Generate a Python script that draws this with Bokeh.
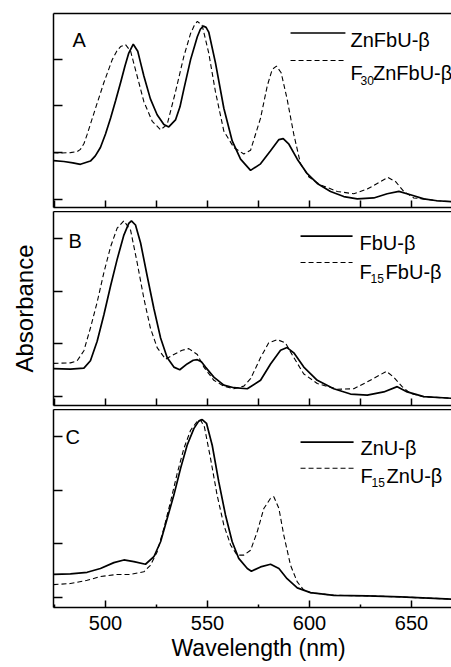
from bokeh.plotting import figure
from bokeh.models import (Range1d, LinearAxis, FixedTicker, Label, Arrow, Title,
                          CustomLabelingPolicy)
from bokeh.layouts import column
from bokeh.embed import file_html
from bokeh.resources import INLINE

# ---------------- data ----------------
# Panel A
a_solid_name = "ZnFbU-\u03b2"
a_solid_wl = [474.5, 479.6, 484, 487.7, 492.6, 495, 497.5, 500, 502.5, 505, 507.4, 509.5, 511.4,
              513.6, 515.8, 517.2, 518.8, 522, 525.3, 528.6, 531, 534.3, 536.5, 538.4, 541.7, 545,
              546.5, 547.9, 549.3, 550.6, 553.9, 558, 562.1, 566.2, 571.1, 576, 580.9, 585, 587.1,
              589.9, 594, 598.9, 603.8, 610.3, 616.8, 623.4, 631.5, 638.1, 643.8, 649.5, 656, 662.5, 669.6]
a_solid_abs = [0.83, 0.81, 0.78, 0.75, 0.82, 0.93, 1.11, 1.40, 1.74, 2.12, 2.50, 2.85, 3.13,
               3.32, 3.17, 2.92, 2.64, 2.15, 1.81, 1.60, 1.55, 1.70, 1.98, 2.36, 2.99, 3.48,
               3.64, 3.71, 3.68, 3.58, 2.92, 1.95, 1.25, 0.86, 0.62, 0.76, 1.04, 1.28, 1.30,
               1.18, 0.86, 0.55, 0.34, 0.17, 0.06, 0.01, 0.03, 0.12, 0.17, 0.10, 0.01, -0.03, -0.05]
a_dash_wl = [474.5, 478, 482.8, 486, 487.7, 489.5, 491, 495.1, 499.2, 503.3, 505.5, 507.4, 509.8,
             512.3, 515.5, 518.8, 522.9, 527, 530.2, 534.3, 538.4, 541.7, 543.5, 545, 547.4, 550.6,
             553.9, 558, 562.9, 567.8, 571.1, 576, 579.3, 581.7, 583.8, 586.1, 589, 592.3, 595.6,
             599.7, 605.4, 613.6, 621.7, 628.3, 634.8, 638.4, 642.2, 646.2, 651.1, 656, 662.5, 669.6]
a_dash_abs = [1.00, 0.99, 1.00, 1.02, 1.07, 1.20, 1.39, 1.95, 2.50, 2.99, 3.17, 3.27, 3.31,
              3.17, 2.64, 2.09, 1.67, 1.49, 1.60, 2.30, 3.06, 3.55, 3.72, 3.81, 3.72, 3.13,
              2.30, 1.46, 1.11, 0.97, 1.05, 1.74, 2.43, 2.78, 2.85, 2.71, 2.15, 1.39, 0.76,
              0.48, 0.31, 0.17, 0.12, 0.22, 0.38, 0.47, 0.38, 0.17, 0.03, 0.01, -0.03, -0.05]

# Panel B
b_solid_name = "FbU-\u03b2"
b_solid_wl = [474.5, 482.8, 489.4, 492.6, 495.9, 499.2, 502.5, 505.7, 509, 511.4, 512.7, 514.7,
              517.2, 520.4, 523.7, 527, 530.2, 533.5, 536.4, 540, 543, 545, 547, 549, 553.1, 558,
              562.9, 569.5, 576, 580.9, 585.8, 589, 592.3, 597.2, 603.8, 611.9, 620.1, 628.3,
              636.4, 643, 647.9, 656, 669.6]
b_solid_abs = [0.53, 0.52, 0.54, 0.68, 1.05, 1.55, 2.10, 2.60, 3.06, 3.28, 3.33, 3.25,
               2.91, 2.29, 1.67, 1.11, 0.74, 0.56, 0.51, 0.62, 0.69, 0.70, 0.66, 0.56, 0.37, 0.22,
               0.17, 0.15, 0.31, 0.62, 0.88, 0.93, 0.83, 0.56, 0.31, 0.15, 0.05, 0.03,
               0.09, 0.19, 0.09, 0.00, -0.03]
b_dash_wl = [474.5, 482.8, 486.1, 489.4, 492.6, 495.9, 499.2, 502.5, 505.7, 509, 512.3, 515.5,
             518.8, 522, 525.3, 529.4, 533.5, 537.6, 540.8, 545, 548.2, 553.1, 558, 562.9, 567.8,
             571.1, 576, 580, 584.2, 588.2, 592.3, 597.2, 603.8, 613.6, 621.7, 628.3, 634, 637.7,
             641.3, 645.4, 649.5, 656, 669.6]
b_dash_abs = [0.63, 0.64, 0.68, 0.87, 1.30, 1.79, 2.35, 2.84, 3.19, 3.33, 3.15, 2.54,
              1.86, 1.30, 0.93, 0.71, 0.80, 0.88, 0.91, 0.80, 0.56, 0.31, 0.20, 0.15, 0.20,
              0.34, 0.74, 1.02, 1.08, 1.02, 0.74, 0.43, 0.25, 0.14, 0.15, 0.28, 0.40, 0.48,
              0.37, 0.19, 0.06, 0.00, -0.03]

# Panel C
c_solid_name = "ZnU-\u03b2"
c_solid_wl = [474.5, 482.8, 491, 497.5, 504.1, 509, 513.9, 519.6, 523.7, 527, 530.2, 533.5,
              536.8, 540, 543.3, 545.7, 547.4, 549.5, 552.3, 555.5, 558.8, 562.1, 565.3, 569.5,
              571.5, 576, 580.9, 585, 589, 594, 600.5, 611.9, 628.3, 644.6, 669.6]
c_solid_abs = [0.43, 0.44, 0.47, 0.54, 0.65, 0.70, 0.67, 0.62, 0.76, 1.04, 1.47, 1.91,
               2.41, 2.84, 3.15, 3.29, 3.32, 3.25, 2.84, 2.16, 1.54, 1.04, 0.73, 0.54,
               0.49, 0.57, 0.62, 0.54, 0.35, 0.18, 0.09, 0.04, 0.03, 0.01, -0.03]
c_dash_wl = [474.5, 482.8, 491, 497.5, 505.7, 512.3, 518.8, 522, 525.3, 528.6, 531.9, 535.1,
             538.4, 541.7, 545, 546.6, 548.5, 551.5, 554.7, 558, 561.3, 564.5, 567.8, 571.1,
             574.4, 577.6, 580.9, 582.5, 585, 587.4, 590.7, 594, 597.2, 600.5, 611.9, 628.3,
             644.6, 669.6]
c_dash_abs = [0.24, 0.26, 0.32, 0.39, 0.43, 0.43, 0.48, 0.60, 0.85, 1.29, 1.79, 2.31,
              2.78, 3.12, 3.29, 3.31, 3.18, 2.59, 1.91, 1.35, 0.98, 0.79, 0.79, 0.88,
              1.23, 1.66, 1.85, 1.88, 1.66, 1.16, 0.60, 0.29, 0.14, 0.09, 0.04, 0.03,
              0.01, -0.03]

x_ticks_major = [500, 550, 600, 650]
x_ticks_minor = [475, 525, 575, 625]
x_tick_labels = {500: "500", 550: "550", 600: "600", 650: "650"}
y_ticks = [0, 1, 2, 3]
x_title = "Wavelength (nm)"
y_title = "Absorbance"

FONT = "Liberation Sans"
LW_AX = 1.5
DASH = "5 3"

x_range = Range1d(474.5, 669.6)


def no_labels(ax):
    ax.major_label_policy = CustomLabelingPolicy(code="return []")
    ax.major_label_text_font_size = "1px"
    ax.major_label_standoff = 0


def make_panel(height, y0, y1, top_border, bottom_border):
    p = figure(width=451, height=height, x_range=x_range, y_range=Range1d(y0, y1),
               output_backend="svg", toolbar_location=None,
               min_border_left=53, min_border_right=0,
               min_border_top=top_border, min_border_bottom=bottom_border,
               outline_line_color=None, background_fill_color="white",
               border_fill_color="white")
    p.grid.grid_line_color = None
    ya = p.yaxis[0]
    ya.ticker = FixedTicker(ticks=y_ticks)
    ya.major_tick_in = 9
    ya.major_tick_out = 0
    ya.minor_tick_in = 0
    ya.minor_tick_out = 0
    no_labels(ya)
    ya.axis_line_width = LW_AX
    ya.major_tick_line_width = LW_AX
    xa = p.xaxis[0]
    xa.ticker = FixedTicker(ticks=sorted(x_ticks_major + x_ticks_minor))
    xa.major_tick_in = 7
    xa.major_tick_out = 0
    xa.minor_tick_in = 0
    xa.minor_tick_out = 0
    no_labels(xa)
    xa.axis_line_width = LW_AX
    xa.major_tick_line_width = LW_AX
    top = LinearAxis(ticker=FixedTicker(ticks=[]), major_tick_in=0, major_tick_out=0,
                     minor_tick_in=0, minor_tick_out=0, axis_line_width=LW_AX)
    no_labels(top)
    p.add_layout(top, "above")
    return p, xa, ya


def curves(p, wl1, ab1, wl2, ab2):
    p.line(wl1, ab1, line_color="black", line_width=1.7)
    p.line(wl2, ab2, line_color="black", line_width=1.1, line_dash=DASH)


def txt(p, x, y, s, size="20px"):
    p.add_layout(Label(x=x, y=y, text=s, text_font=FONT, text_font_size=size,
                       text_color="black", text_baseline="alphabetic", text_align="left"))


def legend(p, x0, x1, ys, yd, tx, ts, sub, main, tf, ysub, xsub, xmain):
    p.add_layout(Arrow(x_start=x0, y_start=ys, x_end=x1, y_end=ys, end=None,
                       line_color="black", line_width=1.7))
    p.add_layout(Arrow(x_start=x0, y_start=yd, x_end=x1, y_end=yd, end=None,
                       line_color="black", line_width=1.1, line_dash=DASH))
    txt(p, tx, ts[0], ts[1])
    txt(p, tx, tf, "F")
    txt(p, xsub, ysub, sub, "12px")
    txt(p, xmain, tf, main)


# Panel A
pa, xa_a, ya_a = make_panel(211, -0.174, 3.977, 13, 0)
curves(pa, a_solid_wl, a_solid_abs, a_dash_wl, a_dash_abs)
txt(pa, 483.8, 3.41, "A")
legend(pa, 590.7, 617.6, 3.56, 2.97, 620.1, (3.40, a_solid_name), "30", "ZnFbU-\u03b2",
       2.71, 2.55, 625.0, 631.1)

# Panel B
pb, xa_b, ya_b = make_panel(198, -0.167, 3.506, 0, 0)
curves(pb, b_solid_wl, b_solid_abs, b_dash_wl, b_dash_abs)
txt(pb, 481.9, 2.95, "B")
legend(pb, 595.6, 621.1, 3.04, 2.54, 624.5, (2.91, b_solid_name), "15", "FbU-\u03b2",
       2.36, 2.23, 629.9, 637.3)
ya_b.axis_label = y_title
ya_b.axis_label_text_font = FONT
ya_b.axis_label_text_font_size = "24px"
ya_b.axis_label_text_font_style = "normal"
ya_b.axis_label_text_color = "black"
ya_b.axis_label_standoff = 12

# Panel C
pc, xc, ya_c = make_panel(258, -0.187, 3.507, 0, 60)
curves(pc, c_solid_wl, c_solid_abs, c_dash_wl, c_dash_abs)
txt(pc, 480.4, 3.00, "C")
legend(pc, 595.6, 621.6, 2.90, 2.41, 625.0, (2.78, c_solid_name), "15", "ZnU-\u03b2",
       2.26, 2.15, 630.4, 637.7)
xc.ticker = FixedTicker(ticks=x_ticks_major, minor_ticks=x_ticks_minor)
xc.minor_tick_in = 3
xc.minor_tick_out = 0
xc.minor_tick_line_width = LW_AX
xc.major_label_policy = CustomLabelingPolicy(code="return indices")
xc.major_label_overrides = x_tick_labels
xc.major_label_text_font = FONT
xc.major_label_text_font_size = "20px"
xc.major_label_text_color = "black"
xc.major_label_standoff = 8
pc.add_layout(Title(text=x_title, align="left", offset=118, standoff=0,
                    text_font=FONT, text_font_size="23px", text_font_style="normal",
                    text_color="black"), "below")

layout = column(pa, pb, pc, spacing=0)
open("out.html", "w").write(file_html(layout, INLINE))
